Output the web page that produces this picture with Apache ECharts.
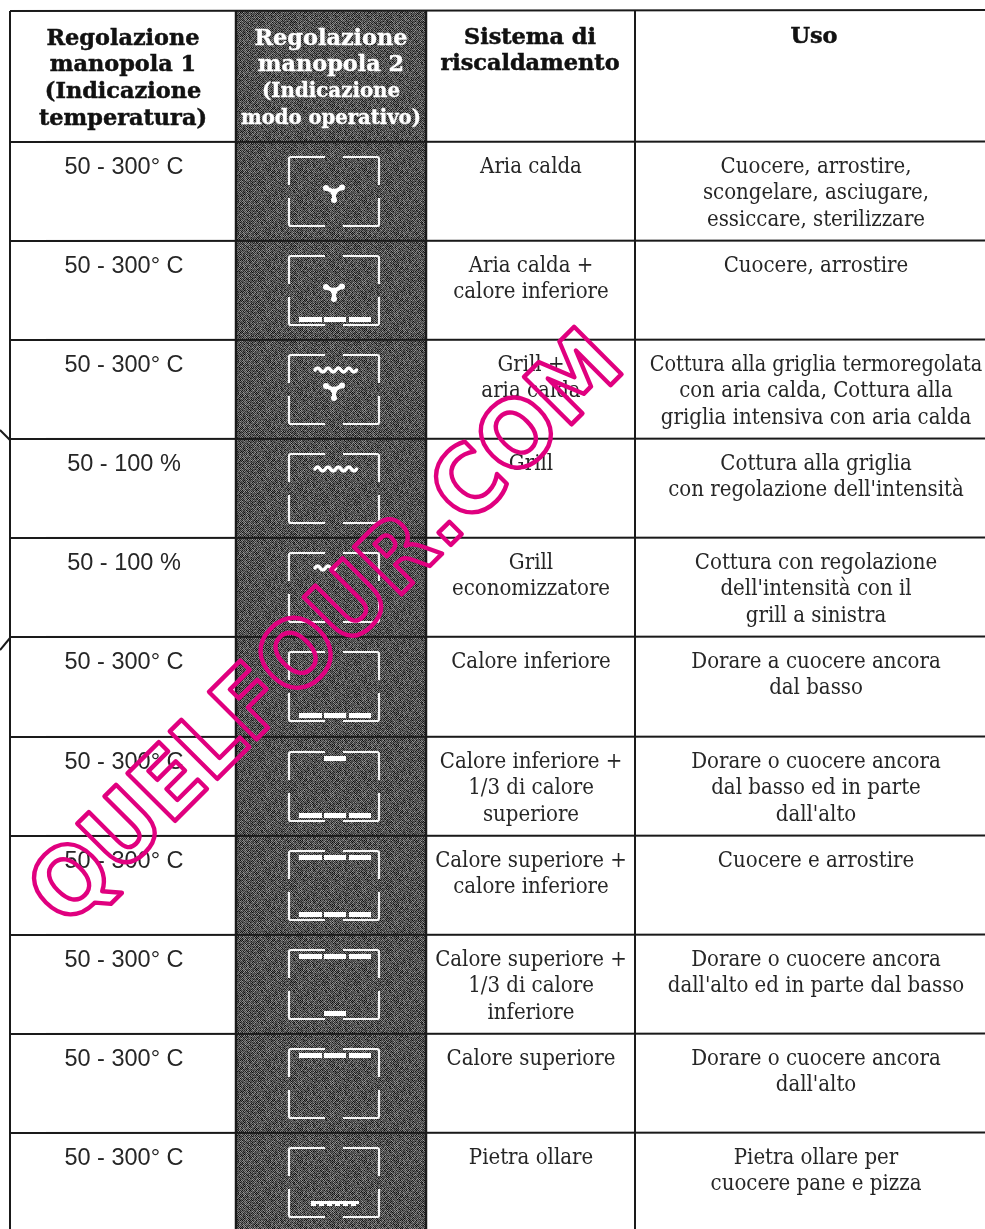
<!DOCTYPE html>
<html><head><meta charset="utf-8">
<style>html,body{margin:0;padding:0;background:#fff}#c{width:985px;height:1229px}</style>
<script src="https://cdn.jsdelivr.net/npm/echarts@6/dist/echarts.min.js"></script>
</head><body><div id="c"></div>
<script>
// ---------- table data ----------
const headers = [
  ["Regolazione","manopola 1","(Indicazione","temperatura)"],
  ["Regolazione","manopola 2","(Indicazione","modo operativo)"],
  ["Sistema di","riscaldamento"],
  ["Uso"]
];
const settings = ["50 - 300° C","50 - 300° C","50 - 300° C","50 - 100 %","50 - 100 %","50 - 300° C","50 - 300° C","50 - 300° C","50 - 300° C","50 - 300° C","50 - 300° C"];
const systems = [
  ["Aria calda"],
  ["Aria calda +","calore inferiore"],
  ["Grill +","aria calda"],
  ["Grill"],
  ["Grill","economizzatore"],
  ["Calore inferiore"],
  ["Calore inferiore +","1/3 di calore","superiore"],
  ["Calore superiore +","calore inferiore"],
  ["Calore superiore +","1/3 di calore","inferiore"],
  ["Calore superiore"],
  ["Pietra ollare"]
];
const uses = [
  ["Cuocere, arrostire,","scongelare, asciugare,","essiccare, sterilizzare"],
  ["Cuocere, arrostire"],
  ["Cottura alla griglia termoregolata","con aria calda, Cottura alla","griglia intensiva con aria calda"],
  ["Cottura alla griglia","con regolazione dell'intensità"],
  ["Cottura con regolazione","dell'intensità con il","grill a sinistra"],
  ["Dorare a cuocere ancora","dal basso"],
  ["Dorare o cuocere ancora","dal basso ed in parte","dall'alto"],
  ["Cuocere e arrostire"],
  ["Dorare o cuocere ancora","dall'alto ed in parte dal basso"],
  ["Dorare o cuocere ancora","dall'alto"],
  ["Pietra ollare per","cuocere pane e pizza"]
];
// which heating elements each mode's symbol shows
const symbolTop    = ["none","none","grill","grill","halfGrill","none","one","three","three","three","none"];
const symbolCentre = ["fan","fan","fan","none","none","none","none","none","none","none","none"];
const symbolBottom = ["none","three","none","none","none","three","three","three","one","none","stone"];
const watermark = "QUELFOUR.COM";

// ---------- layout (page-unit axes) ----------
const colX = [10,236,426,635,985];
const rowY = [142,241,340,439,538,637,737,836,935,1034,1133,1229];
const headerTop = 11;
const lh = 26.6;
const serif = '"DejaVu Serif Condensed","DejaVu Serif",serif';
const slab = '"DejaVu Serif",serif';
const ink = '#262626';

// deterministic halftone tile for the dark column
function tile(){
  const n=32, c=document.createElement('canvas'); c.width=c.height=n;
  const g=c.getContext('2d');
  let s=12345;
  for(let y=0;y<n;y++)for(let x=0;x<n;x++){
    s=(s*1103515245+12345)&0x7fffffff;
    const h=(s>>16)&255;
    const base=((x+y)%2===0)?44:118;
    const v=Math.round(base+(h-128)*0.28);
    g.fillStyle='rgb('+v+','+v+','+v+')';
    g.fillRect(x,y,1,1);
  }
  return c;
}
const dark={image:tile(),repeat:'repeat'};

function lineEl(P,x1,y1,x2,y2,w,col,cap){
  const a=P(x1,y1),b=P(x2,y2);
  return {type:'line',shape:{x1:a[0],y1:a[1],x2:b[0],y2:b[1]},style:{stroke:col||'#1a1a1a',lineWidth:w,lineCap:cap||'butt'}};
}
function textEl(P,str,x,y,font,fill,extra,scale){
  const p=P(x,y);
  return {type:'text',x:p[0],y:p[1],scaleX:scale||1,style:Object.assign({text:str,font:font,fill:fill,textAlign:'center',textVerticalAlign:'middle'},extra||{})};
}
function rr(P,x,y,w,h){
  const a=P(x,y),b=P(x+w,y+h);
  return {type:'rect',shape:{x:a[0],y:a[1],width:b[0]-a[0],height:b[1]-a[1]},style:{fill:'#fff'}};
}
function grillPath(P,x1,x2,y){
  let d='';const step=5.2;let up=true;
  const a=P(x1,y);
  d='M'+a[0]+' '+a[1];
  for(let x=x1;x<x2-0.5;x+=step){
    const q=P(x+step/2,y+(up?-4:4)),e=P(x+step,y);
    d+=' Q'+q[0]+' '+q[1]+' '+e[0]+' '+e[1];
    up=!up;
  }
  return {type:'path',shape:{pathData:d},style:{fill:null,stroke:'#fff',lineWidth:3.4,lineCap:'round',lineJoin:'round'}};
}
function fanEls(P,cx,cy){
  const out=[];
  [[-8,-4],[8,-4.5],[0,8]].forEach(v=>{
    const a=P(cx,cy),b=P(cx+v[0],cy+v[1]);
    out.push({type:'line',shape:{x1:a[0],y1:a[1],x2:b[0],y2:b[1]},style:{stroke:'#fff',lineWidth:4,lineCap:'round'}});
    out.push({type:'circle',shape:{cx:b[0],cy:b[1],r:3},style:{fill:'#fff'}});
  });
  const c=P(cx,cy);
  out.push({type:'circle',shape:{cx:c[0],cy:c[1],r:3.4},style:{fill:'#fff'}});
  return out;
}

function renderFrame(params,api){
  const P=(x,y)=>api.coord([x,y]);
  const ch=[];
  const a=P(colX[1]+1,headerTop),b=P(colX[2],1229);
  ch.push({type:'rect',shape:{x:a[0],y:a[1],width:b[0]-a[0],height:b[1]-a[1]},style:{fill:dark}});
  ch.push(lineEl(P,colX[0],headerTop,985,headerTop-1,2));
  rowY.slice(0,-1).forEach(y=>ch.push(lineEl(P,colX[0],y,985,y-0.5,2)));
  ch.push(lineEl(P,colX[0],headerTop,colX[0],1229,2));
  ch.push(lineEl(P,colX[1],headerTop,colX[1],1229,2.5));
  ch.push(lineEl(P,colX[2],headerTop,colX[2],1229,2.5));
  ch.push(lineEl(P,colX[3],headerTop,colX[3],1229,2));
  ch.push(lineEl(P,0,430,10,440,2));
  ch.push(lineEl(P,0,650,10,638,2));
  return {type:'group',children:ch};
}
function renderHeader(params,api){
  const P=(x,y)=>api.coord([x,y]);
  const ch=[];
  const heavy={stroke:'#111',lineWidth:0.5};
  const whiteHeavy={stroke:'#fff',lineWidth:0.4};
  headers[0].forEach((s,i)=>ch.push(textEl(P,s,123,39+i*lh,'bold 22.4px '+slab,'#111',heavy)));
  ch.push(textEl(P,headers[1][0],331,39,'bold 22.4px '+slab,'#fff',whiteHeavy));
  ch.push(textEl(P,headers[1][1],331,65.5,'bold 22.4px '+slab,'#fff',whiteHeavy));
  ch.push(textEl(P,headers[1][2],331,92,'bold 19.8px '+slab,'#fff',whiteHeavy));
  ch.push(textEl(P,headers[1][3],331,118.5,'bold 19.6px '+slab,'#fff',whiteHeavy));
  headers[2].forEach((s,i)=>ch.push(textEl(P,s,530,38+i*lh,'bold 22.4px '+slab,'#111',heavy)));
  ch.push(textEl(P,headers[3][0],814,37,'bold 22.4px '+slab,'#111',heavy));
  return {type:'group',children:ch};
}
function renderRow(params,api){
  const i=params.dataIndex, top=rowY[i];
  const P=(x,y)=>api.coord([x,y]);
  const ch=[];
  ch.push(textEl(P,settings[i],124,top+26,'23.5px "Liberation Sans"',ink));
  systems[i].forEach((s,k)=>ch.push(textEl(P,s,531,top+25+k*lh,'22px '+serif,ink)));
  uses[i].forEach((s,k)=>ch.push(textEl(P,s,816,top+25+k*lh,'22px '+serif,ink,null,s.length>32?0.975:1)));
  const L=289,R=379,T=top+15,B=top+84,gxL=325,gxR=343,gyT=T+28,gyB=T+41,r=2;
  const corner=(x1,y1,xc,yc,x2,y2)=>{
    const p=P(x1,y1),q=P(xc,yc),s=P(x2,y2);
    return {type:'path',shape:{pathData:'M'+p[0]+' '+p[1]+' L'+(q[0]+Math.sign(p[0]-q[0])*r)+' '+(q[1]+Math.sign(p[1]-q[1])*r)+' Q'+q[0]+' '+q[1]+' '+(q[0]+Math.sign(s[0]-q[0])*r)+' '+(q[1]+Math.sign(s[1]-q[1])*r)+' L'+s[0]+' '+s[1]},
      style:{fill:null,stroke:'#f6f6f6',lineWidth:2.2}};
  };
  ch.push(corner(L,gyT,L,T,gxL,T));
  ch.push(corner(gxR,T,R,T,R,gyT));
  ch.push(corner(L,gyB,L,B,gxL,B));
  ch.push(corner(gxR,B,R,B,R,gyB));
  const bars=[[299,322],[324,346],[349,371]];
  const drawBars=(kind,y)=>{
    if(kind==='three') bars.forEach(b=>ch.push(rr(P,b[0],y,b[1]-b[0],5)));
    if(kind==='one') ch.push(rr(P,bars[1][0],y,bars[1][1]-bars[1][0],5));
  };
  drawBars(symbolTop[i],top+19);
  drawBars(symbolBottom[i],top+76);
  if(symbolTop[i]==='grill') ch.push(grillPath(P,315,356,top+30));
  if(symbolTop[i]==='halfGrill') ch.push(grillPath(P,315,336,top+30));
  if(symbolCentre[i]==='fan') fanEls(P,334,top+50).forEach(e=>ch.push(e));
  if(symbolBottom[i]==='stone'){
    ch.push(rr(P,311,top+68,48,3));
    [311,319,327,335,343,351].forEach(x=>ch.push(rr(P,x,top+71,5,2)));
  }
  return {type:'group',children:ch};
}
function renderMark(params,api){
  const p=api.coord([330,632]);
  return {type:'text',x:p[0],y:p[1],rotation:Math.PI/4,scaleX:0.95,scaleY:1,originX:0,originY:0,
    style:{text:watermark,font:'bold 92px "DejaVu Sans"',fill:'rgba(0,0,0,0)',stroke:'#e0007f',lineWidth:4.5,textAlign:'center',textVerticalAlign:'middle'},z2:50};
}

const chart=echarts.init(document.getElementById('c'),null,{renderer:'canvas'});
const rowIdx=settings.map((s,i)=>[i,i]);
chart.setOption({
  animation:false,
  backgroundColor:'#fff',
  grid:{left:0,right:0,top:0,bottom:0},
  xAxis:{type:'value',min:0,max:985,show:false},
  yAxis:{type:'value',min:0,max:1229,inverse:true,show:false},
  tooltip:{show:false},
  series:[
    {type:'custom',coordinateSystem:'cartesian2d',silent:true,clip:false,z:1,data:[[0,0]],renderItem:renderFrame},
    {type:'custom',coordinateSystem:'cartesian2d',silent:true,clip:false,z:2,data:[[0,0]],renderItem:renderHeader},
    {type:'custom',coordinateSystem:'cartesian2d',silent:true,clip:false,z:3,data:rowIdx,renderItem:renderRow},
    {type:'custom',coordinateSystem:'cartesian2d',silent:true,clip:false,z:4,data:[[0,0]],renderItem:renderMark}
  ]
});
// round the outline corners of the watermark, as in the reference
const zr=chart.getZr();
zr.storage.getDisplayList(true,true).forEach(el=>{
  if(el.style&&el.style.text===watermark){el.style.lineJoin='round';el.dirty();}
});
zr.refreshImmediately();
</script></body></html>
